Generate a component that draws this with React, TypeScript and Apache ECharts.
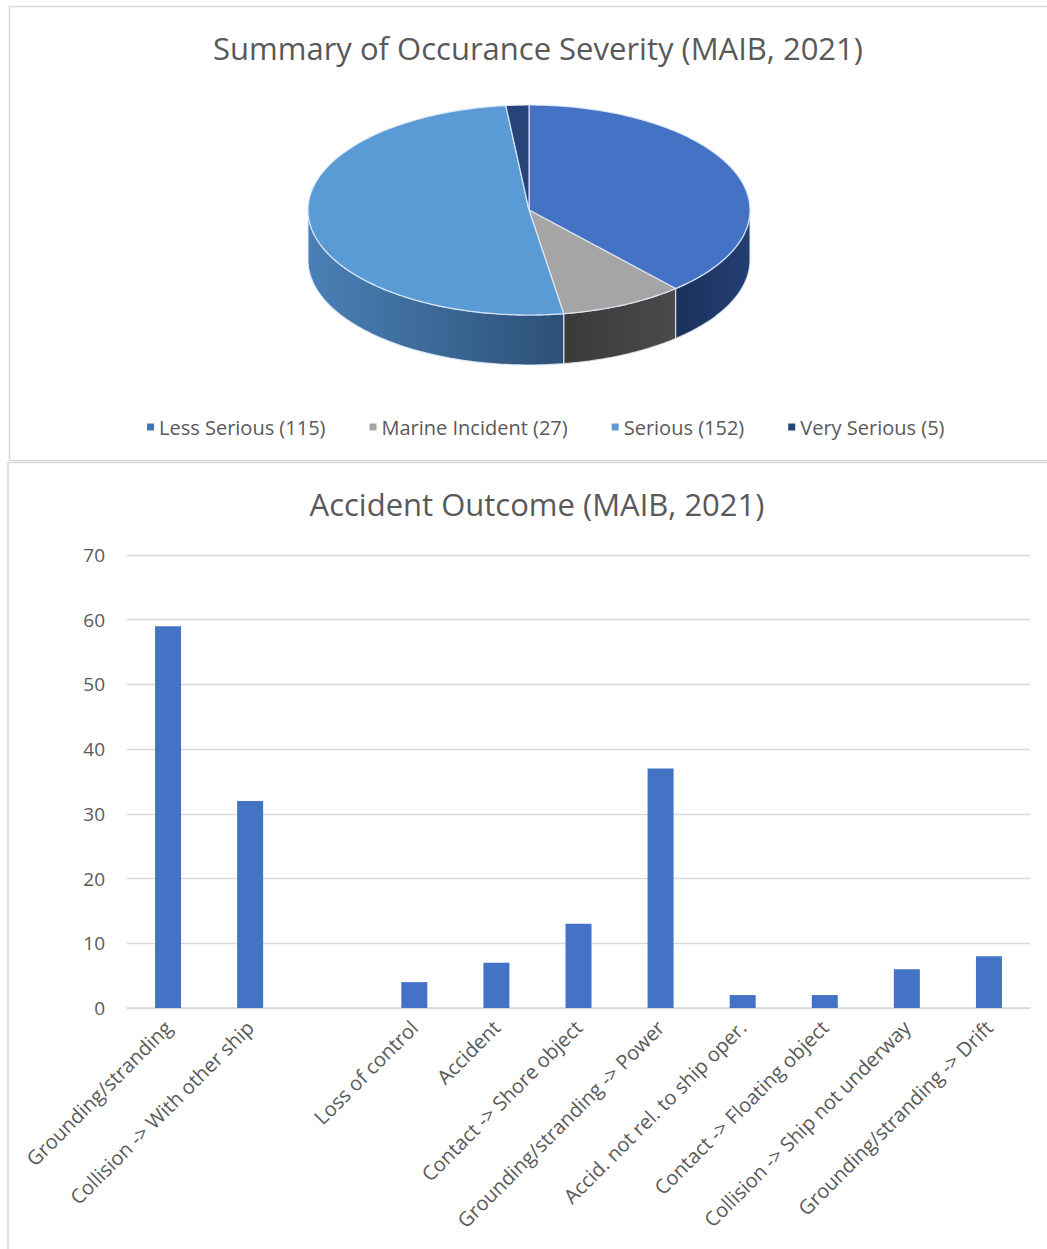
import React, { useEffect, useRef } from "react";
import * as echarts from "echarts";

// ---- data ----
const pieNames = ["Less Serious", "Marine Incident", "Serious", "Very Serious"];
const pieValues = [115, 27, 152, 5];

const barCategories = [
  "Grounding/stranding",
  "Collision -> With other ship",
  "",
  "Loss of control",
  "Accident",
  "Contact -> Shore object",
  "Grounding/stranding -> Power",
  "Accid. not rel. to ship oper.",
  "Contact -> Floating object",
  "Collision -> Ship not underway",
  "Grounding/stranding -> Drift",
];
const barValues = [59, 32, null, 4, 7, 13, 37, 2, 2, 6, 8];
const yMin = 0;
const yMax = 70;
const yStep = 10;

const pieTitle = "Summary of Occurance Severity (MAIB, 2021)";
const barTitle = "Accident Outcome (MAIB, 2021)";

// ---- styles ----
const pieTopColors = ["#4472C4", "#A5A5A5", "#5B9BD5", "#264478"];
const pieSideColors = [
  ["#1B315C", "#233F72"],
  ["#3A3A3A", "#4A4A4A"],
  ["#4A80B6", "#2C5077"],
  ["#1A2F52", "#1A2F52"],
];
const FONT = "Open Sans";
const TEXT = "#595959";
const GRIDC = "#D9D9D9";

const PIE = { cx: 529, cy: 210, rx: 221, ry: 105, depth: 50 };

export default function App() {
  const ref = useRef<HTMLDivElement>(null);
  useEffect(() => {
    if (!ref.current) return;
    const chart = echarts.init(ref.current, null, { renderer: "svg" });
    const total = pieValues.reduce((a, b) => a + b, 0);

    const renderPie = (params: any, api: any) => {
      const i = params.dataIndex;
      let start = 0;
      for (let j = 0; j < i; j++) start += pieValues[j];
      const v = api.value(0);
      const a0 = (start / total) * Math.PI * 2;
      const a1 = ((start + v) / total) * Math.PI * 2;
      const { cx, cy, rx, ry, depth } = PIE;
      const pt = (a: number, dy = 0) => [cx + rx * Math.sin(a), cy - ry * Math.cos(a) + dy];
      const arc = (from: number, to: number, dy = 0) => {
        const n = Math.max(2, Math.ceil(Math.abs(to - from) / (Math.PI / 180)));
        const out: number[][] = [];
        for (let k = 0; k <= n; k++) out.push(pt(from + ((to - from) * k) / n, dy));
        return out;
      };
      const children: any[] = [];
      const s0 = Math.max(a0, Math.PI / 2);
      const s1 = Math.min(a1, (Math.PI * 3) / 2);
      if (s1 > s0) {
        const pts = arc(s0, s1).concat(arc(s1, s0, depth));
        children.push({
          type: "polygon",
          z2: 1,
          shape: { points: pts },
          style: {
            fill: new echarts.graphic.LinearGradient(0, 0, 1, 0, [
              { offset: 0, color: pieSideColors[i][0] },
              { offset: 1, color: pieSideColors[i][1] },
            ]),
            stroke: "rgba(225,235,247,0.85)",
            lineWidth: 1.2,
          },
        });
      }
      const top = [[cx, cy]].concat(arc(a0, a1));
      children.push({
        type: "polygon",
        z2: 2,
        shape: { points: top },
        style: {
          fill: pieTopColors[i],
          stroke: "rgba(225,235,247,0.9)",
          lineWidth: 1.2,
        },
      });
      return { type: "group", children };
    };

    const option: any = {
      animation: false,
      backgroundColor: "#ffffff",
      title: [
        {
          text: pieTitle,
          left: 533,
          textAlign: "center",
          top: 27,
          textStyle: { fontFamily: FONT, fontSize: 31, fontWeight: "normal", color: TEXT },
        },
        {
          text: barTitle,
          left: 532,
          textAlign: "center",
          top: 483,
          textStyle: { fontFamily: FONT, fontSize: 31, fontWeight: "normal", color: TEXT },
        },
      ],
      legend: {
        left: 142,
        top: 412,
        icon: "rect",
        itemWidth: 7,
        itemHeight: 7,
        itemGap: 44,
        data: pieNames,
        selectedMode: false,
        formatter: (name: string) => `${name} (${pieValues[pieNames.indexOf(name)]})`,
        textStyle: { fontFamily: FONT, fontSize: 20, color: TEXT },
      },
      grid: { left: 127, right: 17, top: 555, bottom: 241 },
      xAxis: {
        type: "category",
        data: barCategories,
        axisTick: { show: false },
        axisLine: { lineStyle: { color: GRIDC, width: 1.5 } },
        axisLabel: {
          interval: 0,
          rotate: 45,
          margin: 16,
          fontFamily: FONT,
          fontSize: 20,
          color: TEXT,
        },
      },
      yAxis: {
        type: "value",
        min: yMin,
        max: yMax,
        interval: yStep,
        axisLine: { show: false },
        axisTick: { show: false },
        splitLine: { lineStyle: { color: GRIDC, width: 1.3 } },
        axisLabel: { margin: 22, fontFamily: FONT, fontSize: 19, color: TEXT },
      },
      graphic: [
        {
          type: "rect",
          shape: { x: 9.5, y: 6.5, width: 1060, height: 454 },
          style: { fill: "none", stroke: GRIDC, lineWidth: 1.5 },
          silent: true,
        },
        {
          type: "rect",
          shape: { x: 8, y: 462.5, width: 1060, height: 820 },
          style: { fill: "none", stroke: GRIDC, lineWidth: 1.5 },
          silent: true,
        },
      ],
      series: [
        {
          type: "bar",
          data: barValues,
          barWidth: 26,
          itemStyle: { color: "#4472C4" },
        },
        {
          type: "custom",
          name: "Severity 3D",
          coordinateSystem: "none",
          renderItem: renderPie,
          data: pieValues.map((v) => [v]),
          silent: true,
        },
        {
          type: "pie",
          name: "Severity",
          center: [-2000, -2000],
          radius: [0, 1],
          silent: true,
          label: { show: false },
          labelLine: { show: false },
          data: pieNames.map((n, k) => ({
            name: n,
            value: pieValues[k],
            itemStyle: { color: pieTopColors[k] },
          })),
        },
      ],
    };
    chart.setOption(option);
    return () => chart.dispose();
  }, []);
  return (
    <div
      ref={ref}
      style={{ position: "absolute", left: 0, top: 0, width: 1047, height: 1249, background: "#fff" }}
    />
  );
}
